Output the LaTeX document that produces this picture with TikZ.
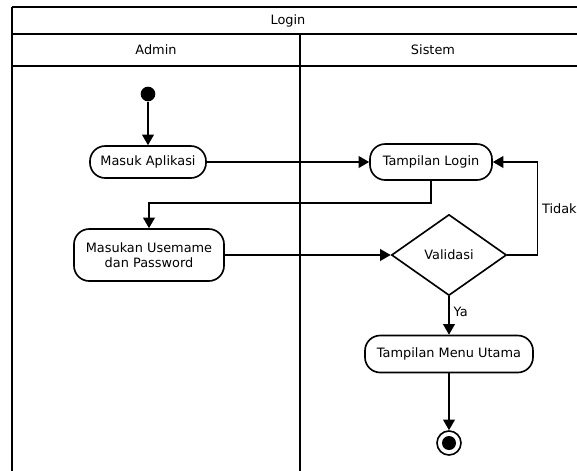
\documentclass[tikz,border=0pt]{standalone}
\usepackage{fontspec}
\setmainfont{DejaVu Sans}
\usetikzlibrary{shapes.geometric, arrows.meta}

\begin{document}
\begin{tikzpicture}[x=0.03cm, y=-0.03cm, line width=1.4pt,
  >={Triangle[length=9pt, width=10pt]},
  font=\fontsize{11}{13}\selectfont,
  action/.style={draw, rounded corners=13pt, inner sep=2pt, align=center, fill=white},
  decision/.style={draw, diamond, inner sep=0pt, minimum width=3.45cm, minimum height=2.43cm, fill=white},
  startdot/.style={circle, fill=black, inner sep=0pt, minimum size=0.44cm}]
  \useasboundingbox (0,0) rectangle (577,471);
  % swimlane frame
  \draw (12,7) -- (577,7) (12,34) -- (577,34) (12,66) -- (577,66);
  \draw (12,7) -- (12,471) (300,34) -- (300,471);
  \node (title)  at (288,21) {Login};
  \node (admin)  at (156,50) {Admin};
  \node (sistem) at (433,50) {Sistem};
  % activities
  \node[startdot]                                        (start)   at (148,94)  {};
  \node[action, minimum width=3.48cm, minimum height=0.96cm] (masuk)   at (148,162) {Masuk Aplikasi};
  \node[action, minimum width=4.5cm, minimum height=1.56cm]  (masukan) at (149,255) {Masukan Usemame\\dan Password};
  \node[action, minimum width=3.66cm, minimum height=1.08cm] (tampil)  at (431,162) {Tampilan Login};
  \node[decision]                                        (valid)   at (449,255) {Validasi};
  \node[action, minimum width=5.04cm, minimum height=1.11cm] (menu)    at (449,354) {Tampilan Menu Utama};
  \node[circle, draw, inner sep=0pt, minimum size=0.72cm] (final)   at (449,443) {};
  \node[startdot, minimum size=0.42cm]                   (finaldot) at (final) {};
  \coordinate (bend) at (149,203);
  % flow
  \draw[->] (start) -- (masuk);
  \draw[->] (masuk) -- (tampil);
  \draw[->] (tampil.south) |- (bend) -- (masukan.north);
  \draw[->] (masukan) -- (valid);
  \draw[->] (valid.east) -- ++(30,0) |- node[pos=0.25, right] {Tidak} (tampil.east);
  \draw[->] (valid.south) -- node[pos=0.4, right] {Ya} (menu.north);
  \draw[->] (menu) -- (final);
\end{tikzpicture}
\end{document}
